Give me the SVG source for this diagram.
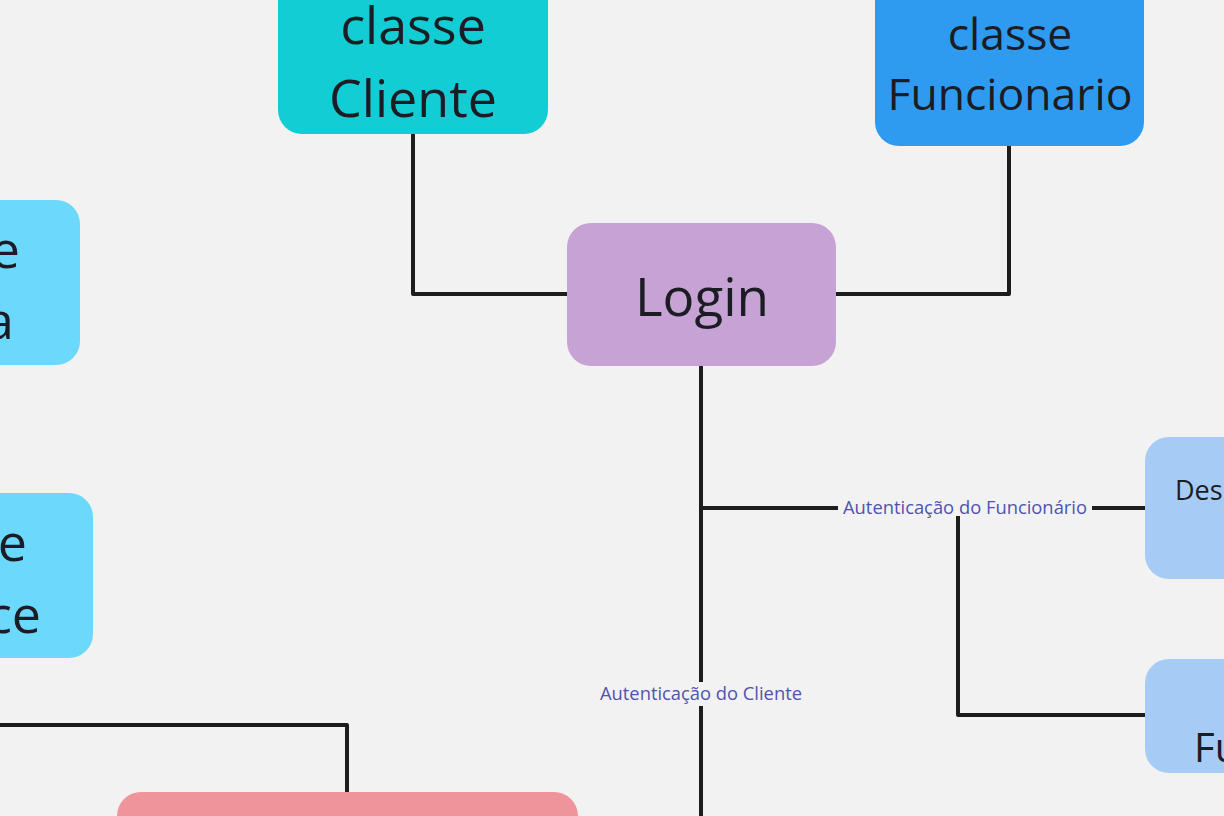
<svg xmlns="http://www.w3.org/2000/svg" width="1224" height="816" viewBox="0 0 1224 816">
<style>
.node-text{font-family:"Open Sans","Noto Sans","Liberation Sans",sans-serif;fill:#1c1c24;}
.conn{fill:none;stroke:#1d1d1d;stroke-width:4;stroke-linejoin:round;stroke-linecap:butt;}
.lbl{font-family:"Open Sans","Noto Sans","Liberation Sans",sans-serif;font-size:17.5px;fill:#5053b0;text-anchor:middle;}
.lblbg{fill:#f2f2f2;}
</style>
<rect x="0" y="0" width="1224" height="816" fill="#f2f2f2"/>
<g id="connectors">
<polyline class="conn" points="413,134 413,294 567,294"/>
<polyline class="conn" points="836,294 1009,294 1009,146"/>
<line class="conn" x1="701" y1="366" x2="701" y2="816"/>
<polyline class="conn" points="701,508 1145,508"/>
<polyline class="conn" points="958,508 958,715 1145,715"/>
<polyline class="conn" points="0,725 347,725 347,792"/>
<g id="label-func">
<rect class="lblbg" x="838" y="497" width="254" height="19"/>
<text class="lbl" x="965" y="514" textLength="244" lengthAdjust="spacingAndGlyphs">Autenticação do Funcionário</text>
</g>
<g id="label-cli">
<rect class="lblbg" x="596" y="682" width="210" height="24"/>
<text class="lbl" x="701" y="700" textLength="202" lengthAdjust="spacingAndGlyphs">Autenticação do Cliente</text>
</g>
</g>
<g id="node-classe-cliente">
<rect x="278" y="-40" width="270" height="174" rx="24" fill="#13cdd4"/>
<text class="node-text" font-size="52" text-anchor="middle" x="413" y="44">classe</text>
<text class="node-text" font-size="52" text-anchor="middle" x="413" y="117">Cliente</text>
</g>
<g id="node-classe-funcionario">
<rect x="875" y="-40" width="269" height="186" rx="24" fill="#2e9bf0"/>
<text class="node-text" font-size="44.5" text-anchor="middle" x="1010" y="50">classe</text>
<text class="node-text" font-size="44.5" text-anchor="middle" x="1010" y="110">Funcionario</text>
</g>
<g id="node-login">
<rect x="567" y="223" width="269" height="143" rx="24" fill="#c7a2d4"/>
<text class="node-text" font-size="53" text-anchor="middle" x="702" y="316">Login</text>
</g>
<g id="node-left-1">
<rect x="-200" y="200" width="280" height="165" rx="24" fill="#6cd8fb"/>
<text class="node-text" font-size="52" text-anchor="end" x="20" y="268">e</text>
<text class="node-text" font-size="52" text-anchor="end" x="14" y="339">a</text>
</g>
<g id="node-left-2">
<rect x="-200" y="493" width="293" height="165" rx="24" fill="#6cd8fb"/>
<text class="node-text" font-size="52" text-anchor="end" x="27" y="561">e</text>
<text class="node-text" font-size="52" text-anchor="end" x="41" y="633">ce</text>
</g>
<g id="node-right-1">
<rect x="1145" y="437" width="200" height="142" rx="24" fill="#a6cbf4"/>
<text class="node-text" font-size="27" x="1175" y="500">Des</text>
</g>
<g id="node-right-2">
<rect x="1145" y="659" width="200" height="114" rx="24" fill="#a6cbf4"/>
<text class="node-text" font-size="40" x="1194" y="762">Fu</text>
</g>
<g id="node-bottom">
<rect x="117" y="792" width="461" height="100" rx="24" fill="#f0949c"/>
</g>
</svg>
